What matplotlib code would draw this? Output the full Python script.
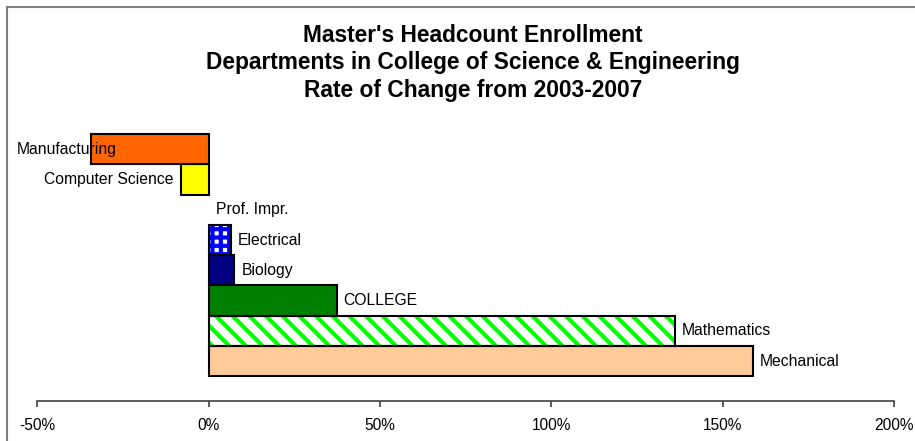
import numpy as np
import matplotlib
matplotlib.use("Agg")
import matplotlib.pyplot as plt
from matplotlib.patches import Rectangle
from matplotlib.ticker import FuncFormatter

plt.rcParams["font.family"] = ["Liberation Sans", "DejaVu Sans"]

## data (rate of change 2003-2007)
departments = ["Manufacturing", "Computer Science", "Prof. Impr.", "Electrical",
               "Biology", "COLLEGE", "Mathematics", "Mechanical"]
change = [-0.344, -0.082, 0.0, 0.066, 0.075, 0.374, 1.362, 1.588]
x_ticks = [-0.5, 0.0, 0.5, 1.0, 1.5, 2.0]

## styles
face_colors = ["#FF6600", "#FFFF00", "white", "white", "#000080", "#008000", "white", "#FFCC99"]
hatch_colors = [None, None, None, "#0000FF", None, None, "#00FF00", None]
hatches = [None, None, None, "++", None, None, "\\\\", None]
label_dx = [19, -5, 5, 5, 5.5, 5, 5, 5]   # points

fig = plt.figure(figsize=(9.15, 4.41), dpi=100)
ax = fig.add_axes([37.3 / 915, 40 / 441, (893.9 - 37.3) / 915, 283 / 441])

ypos = np.arange(len(departments))

## base fill, then hatching, then outline (no outline for zero-length bars)
ax.barh(ypos, change, height=1.0, color=face_colors, linewidth=0)
plt.rcParams["hatch.linewidth"] = 3.0
for i in range(len(departments)):
    if hatches[i] is not None:
        ax.barh(ypos[i], change[i], height=1.0, fill=False,
                edgecolor=hatch_colors[i], hatch=hatches[i], linewidth=0)
edge_w = [1.5 if v != 0 else 0 for v in change]
ax.barh(ypos, change, height=1.0, fill=False, edgecolor="black", linewidth=edge_w)

for i, (name, v) in enumerate(zip(departments, change)):
    dx = label_dx[i]
    ax.annotate(name, xy=(v, ypos[i]), xytext=(dx, 0), textcoords="offset points",
                ha="right" if v < 0 else "left",
                va="center", fontsize=11.3, annotation_clip=False)

ax.set_xlim(-0.5, 2.0)
ax.set_ylim(8.32, -1.035)
ax.set_xticks(x_ticks)
ax.xaxis.set_major_formatter(FuncFormatter(lambda v, p: "{:.0f}%".format(v * 100)))
ax.set_yticks([])
for s in ["top", "right", "left"]:
    ax.spines[s].set_visible(False)
ax.spines["bottom"].set_color("#404040")
ax.spines["bottom"].set_linewidth(1.2)
ax.tick_params(axis="x", direction="out", length=4, width=1.2, color="#404040",
               labelsize=11.2, pad=8)

fig.text(473 / 915, 1 - 63 / 441,
         "Master's Headcount Enrollment\nDepartments in College of Science & Engineering\nRate of Change from 2003-2007",
         ha="center", va="center", fontsize=16.4, fontweight="bold", linespacing=1.27)

## chart area border
fig.add_artist(Rectangle((7 / 915, -0.1), 1.2, 1.1 - 7 / 441, transform=fig.transFigure,
                         fill=False, edgecolor="#808080", linewidth=1.5))

fig.savefig("out.png", dpi=100)
